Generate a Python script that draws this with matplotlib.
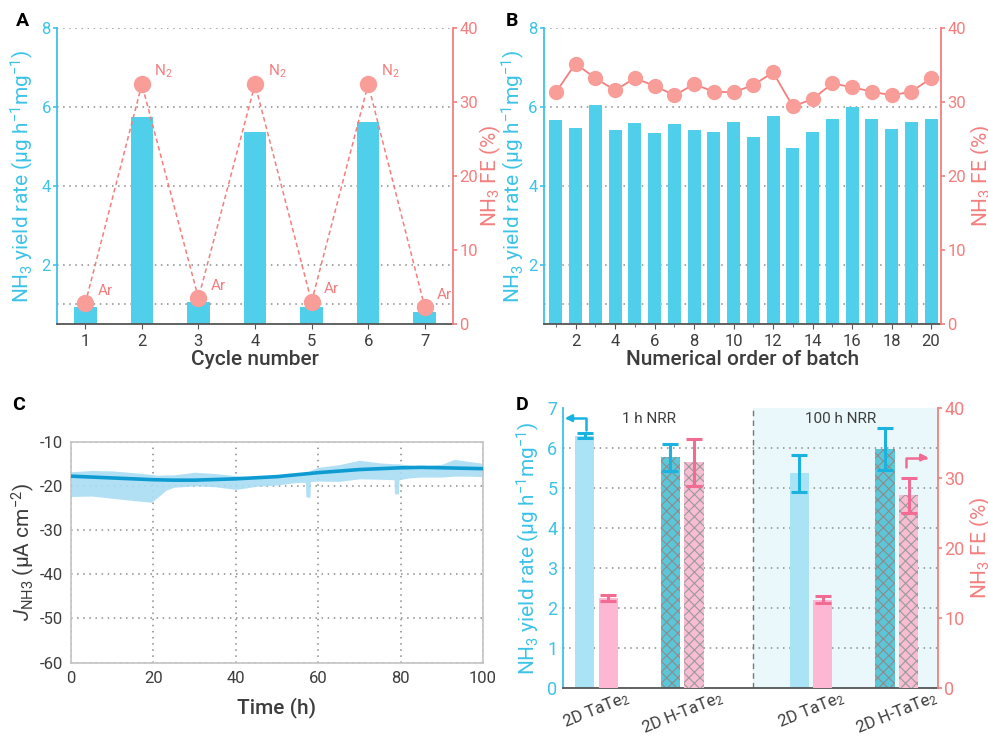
import matplotlib
matplotlib.use("Agg")
import matplotlib.pyplot as plt

plt.rcParams["font.family"] = ["Roboto", "DejaVu Sans"]
plt.rcParams["mathtext.fontset"] = "custom"
plt.rcParams["mathtext.rm"] = "Roboto"
plt.rcParams["mathtext.it"] = "Roboto:italic"
plt.rcParams["mathtext.bf"] = "Roboto:bold"
plt.rcParams["axes.unicode_minus"] = False
plt.rcParams["hatch.linewidth"] = 0.8

# --- datos panel A (ciclos Ar / N2) ---
cycles = [1, 2, 3, 4, 5, 6, 7]
cycle_yield = [0.93, 5.75, 1.06, 5.37, 0.94, 5.62, 0.81]
cycle_fe = [2.8, 32.4, 3.5, 32.4, 3.0, 32.4, 2.3]
cycle_gas = ["Ar", "N$_2$", "Ar", "N$_2$", "Ar", "N$_2$", "Ar"]

# --- datos panel B (lotes) ---
batches = list(range(1, 21))
batch_yield = [5.67, 5.46, 6.05, 5.42, 5.59, 5.33, 5.57, 5.41, 5.36, 5.62,
               5.25, 5.78, 4.95, 5.36, 5.69, 6.00, 5.69, 5.45, 5.63, 5.69]
batch_fe = [31.3, 35.2, 33.2, 31.6, 33.2, 32.2, 30.9, 32.4, 31.4, 31.3,
            32.3, 34.0, 29.4, 30.4, 32.5, 32.0, 31.4, 30.9, 31.4, 33.2]

# --- datos panel C (100 h) ---
t_line = [0, 10, 20, 25, 30, 40, 50, 60, 70, 80, 85, 90, 100]
j_line = [-17.8, -18.2, -18.6, -18.7, -18.7, -18.4, -17.9, -17.0, -16.3,
          -15.9, -15.8, -15.9, -16.1]
t_band = [0, 5, 10, 15, 19.5, 21, 23, 25, 30, 35, 40, 45, 50, 55, 56.9, 57.0,
          58.0, 58.1, 60, 65, 70, 75, 78.4, 78.5, 79.5, 79.6, 82, 85, 90, 93,
          96, 100]
j_upper = [-16.8, -16.5, -16.6, -17.0, -17.4, -17.6, -17.5, -17.5, -16.9,
           -17.2, -17.7, -18.0, -17.8, -17.4, -17.0, -16.9, -16.6, -16.5,
           -15.8, -15.2, -14.2, -14.8, -15.0, -15.0, -15.0, -15.0, -15.3,
           -15.5, -15.1, -14.0, -14.4, -14.9]
j_lower = [-22.4, -22.3, -22.8, -23.3, -23.7, -22.6, -21.0, -20.3, -20.0,
           -20.2, -20.8, -20.1, -19.8, -19.2, -19.2, -22.5, -22.6, -19.0,
           -18.9, -19.0, -18.4, -18.5, -18.6, -21.8, -21.8, -18.6, -18.2,
           -18.0, -18.0, -17.8, -17.8, -17.9]

# --- datos panel D (1 h vs 100 h) ---
d_labels = ["2D TaTe$_2$", "2D H-TaTe$_2$", "2D TaTe$_2$", "2D H-TaTe$_2$"]
d_pos = [0, 1, 2.5, 3.5]
d_yield = [6.30, 5.76, 5.36, 5.97]
d_yield_err = [0.06, 0.33, 0.47, 0.52]
d_fe = [12.9, 32.2, 12.6, 27.5]
d_fe_err = [0.4, 3.3, 0.5, 2.5]
d_hatched = [False, True, False, True]

CYAN = "#3CC3E8"
BAR = "#4FCFEA"
SALMON = "#F47E7E"
DOT = "#F99D99"
DARK = "#3d3d3d"
GRID = dict(linestyle=(0, (1, 3)), color="#8a8a8a", linewidth=1.1)
YL = "NH$_3$ yield rate (μg h$^{-1}$mg$^{-1}$)"
FL = "NH$_3$ FE (%)"


def estilo_doble(ax, ax2, pad_izq=3, pad_der=1):
    ax.spines["top"].set_visible(False)
    ax.spines["right"].set_visible(False)
    ax2.spines["top"].set_visible(False)
    ax2.spines["left"].set_visible(False)
    ax2.spines["bottom"].set_visible(False)
    ax.spines["left"].set_color(CYAN)
    ax.spines["left"].set_linewidth(1.3)
    ax2.spines["right"].set_color(SALMON)
    ax2.spines["right"].set_linewidth(1.3)
    ax.spines["bottom"].set_color("#555555")
    ax.spines["bottom"].set_linewidth(1.3)
    ax.tick_params(axis="y", colors=CYAN, labelsize=12, length=3, width=1.2,
                   pad=1.5)
    ax2.tick_params(axis="y", colors=SALMON, labelsize=12, length=3,
                    width=1.2, pad=1.5)
    ax.tick_params(axis="x", colors="#555555", labelcolor=DARK, labelsize=12)
    ax.set_ylabel(YL, color=CYAN, fontsize=15, labelpad=pad_izq)
    ax2.set_ylabel(FL, color=SALMON, fontsize=15, labelpad=pad_der)
    ax.set_axisbelow(True)


fig = plt.figure(figsize=(9.88, 7.42), dpi=100)

# A
ax = fig.add_axes([0.0577, 0.5633, 0.4008, 0.399])
ax2 = ax.twinx()
ax.bar(cycles, cycle_yield, width=0.4, color=BAR, zorder=2)
ax2.plot(cycles, cycle_fe, color=SALMON, linestyle=(0, (3, 2)), linewidth=1.1)
ax2.plot(cycles, cycle_fe, "o", color=DOT, markersize=11.5, zorder=3)
for c, f, g in zip(cycles, cycle_fe, cycle_gas):
    ax2.annotate(g, (c, f), xytext=(9, 6), textcoords="offset points",
                 color=SALMON, fontsize=11)
ax.set_xlim(0.5, 7.5)
ax.set_ylim(0.5, 8)
ax2.set_ylim(0, 40)
ax.set_xticks(cycles)
ax.set_yticks([2, 4, 6, 8])
ax.set_yticks([1], minor=True)
ax.tick_params(axis="y", which="minor", length=0)
ax.yaxis.grid(True, which="both", **GRID)
ax2.set_yticks([0, 10, 20, 30, 40])
estilo_doble(ax, ax2, pad_izq=4, pad_der=0)
ax.set_xlabel("Cycle number", color=DARK, fontsize=15, fontweight="medium",
              labelpad=1)

# B
bx = fig.add_axes([0.5506, 0.5633, 0.4018, 0.399])
bx2 = bx.twinx()
bx.bar(batches, batch_yield, width=0.66, color=BAR, zorder=2)
bx2.plot(batches, batch_fe, color=SALMON, linewidth=1.3)
bx2.plot(batches, batch_fe, "o", color=DOT, markersize=10, zorder=3)
bx.set_xlim(0.4, 20.5)
bx.set_ylim(0.5, 8)
bx2.set_ylim(0, 40)
bx.set_xticks(range(2, 21, 2))
bx.set_xticks(range(1, 21, 2), minor=True)
bx.set_yticks([2, 4, 6, 8])
bx.set_yticks([1], minor=True)
bx.tick_params(axis="y", which="minor", length=0)
bx.tick_params(axis="x", which="minor", length=2, colors="#555555")
bx.yaxis.grid(True, which="both", **GRID)
bx2.set_yticks([0, 10, 20, 30, 40])
estilo_doble(bx, bx2, pad_izq=1, pad_der=2)
bx.set_xlabel("Numerical order of batch", color=DARK, fontsize=15,
              fontweight="medium", labelpad=1)

# C
cx = fig.add_axes([0.0719, 0.1069, 0.417, 0.2978])
cx.fill_between(t_band, j_lower, j_upper, color="#A9DDF4", linewidth=0,
                alpha=0.9, zorder=2)
cx.plot(t_line, j_line, color="#0E9BD1", linewidth=2.6, zorder=3)
cx.set_xlim(0, 100)
cx.set_ylim(-60, -10)
cx.set_xticks(range(0, 101, 20))
cx.set_yticks(range(-60, -9, 10))
cx.grid(True, **GRID)
for s in cx.spines.values():
    s.set_color("#c4c4c4")
    s.set_linewidth(1.2)
cx.tick_params(colors=DARK, labelsize=12, length=0, pad=6)
cx.set_xlabel("Time (h)", color=DARK, fontsize=15, fontweight="medium",
              labelpad=8)
cx.set_ylabel("$J_{\\rm NH3}$ (μA cm$^{-2}$)", color=DARK, fontsize=15,
              labelpad=2)

# D
dx = fig.add_axes([0.5698, 0.0724, 0.3796, 0.3781])
dx2 = dx.twinx()
dx.axvspan(1.82, 4.0, color="#EBF8FB", zorder=0, linewidth=0)
dx.axvline(1.82, color="#777777", linestyle=(0, (4, 3)), linewidth=1.0)
w = 0.225
for p, y, ye, f, fe, h in zip(d_pos, d_yield, d_yield_err, d_fe, d_fe_err,
                              d_hatched):
    if h:
        dx.bar(p - 0.137, y, width=w, color="#5CC6D9", edgecolor="#8c8c8c",
               hatch="xxx", linewidth=0, zorder=2)
        dx2.bar(p + 0.137, f, width=w, color="#F8BDD2", edgecolor="#9a9a9a",
                hatch="xxx", linewidth=0, zorder=2)
    else:
        dx.bar(p - 0.137, y, width=w, color="#AAE3F6", zorder=2)
        dx2.bar(p + 0.137, f, width=w, color="#FDB7D3", zorder=2)
    dx.errorbar(p - 0.137, y, yerr=ye, color="#1AB3E0", capsize=6,
                elinewidth=2.2, capthick=2.2, zorder=4)
    dx2.errorbar(p + 0.137, f, yerr=fe, color="#F16B92", capsize=6,
                 elinewidth=2.2, capthick=2.2, zorder=4)
dx.set_xlim(-0.39, 3.98)
dx.set_ylim(0, 7)
dx2.set_ylim(0, 40)
dx.set_xticks(d_pos)
dx.set_xticklabels(d_labels, rotation=22, ha="center")
dx.set_yticks(range(0, 8))
dx2.set_yticks([0, 10, 20, 30, 40])
for v in range(1, 7):
    dx.axhline(v, zorder=1, **GRID)
estilo_doble(dx, dx2, pad_izq=4, pad_der=2)
dx.tick_params(axis="y", length=0, labelsize=13, pad=4)
dx2.tick_params(axis="y", labelsize=13)
dx.tick_params(axis="x", length=0, labelsize=12, pad=0)
dx.text(0.229, 0.96, "1 h NRR", transform=dx.transAxes, ha="center",
        va="center", color=DARK, fontsize=11)
dx.text(0.741, 0.96, "100 h NRR", transform=dx.transAxes, ha="center",
        va="center", color=DARK, fontsize=11)
dx.annotate("", xy=(-0.37, 6.74), xytext=(-0.12, 6.45),
            arrowprops=dict(arrowstyle="-|>", color="#1AB3E0", lw=1.8,
                            connectionstyle="angle,angleA=90,angleB=0,rad=0",
                            shrinkA=0, shrinkB=0))
dx2.annotate("", xy=(3.87, 32.9), xytext=(3.61, 31.6),
             arrowprops=dict(arrowstyle="-|>", color="#F16B92", lw=1.8,
                             connectionstyle="angle,angleA=90,angleB=0,rad=0",
                             shrinkA=0, shrinkB=0))

# letras de panel
for letra, x, y in [("A", 0.016, 0.965), ("B", 0.512, 0.965),
                    ("C", 0.012, 0.447), ("D", 0.522, 0.447)]:
    fig.text(x, y, letra, fontsize=14, fontweight="bold", color="black")

fig.savefig("out.png", dpi=100)
